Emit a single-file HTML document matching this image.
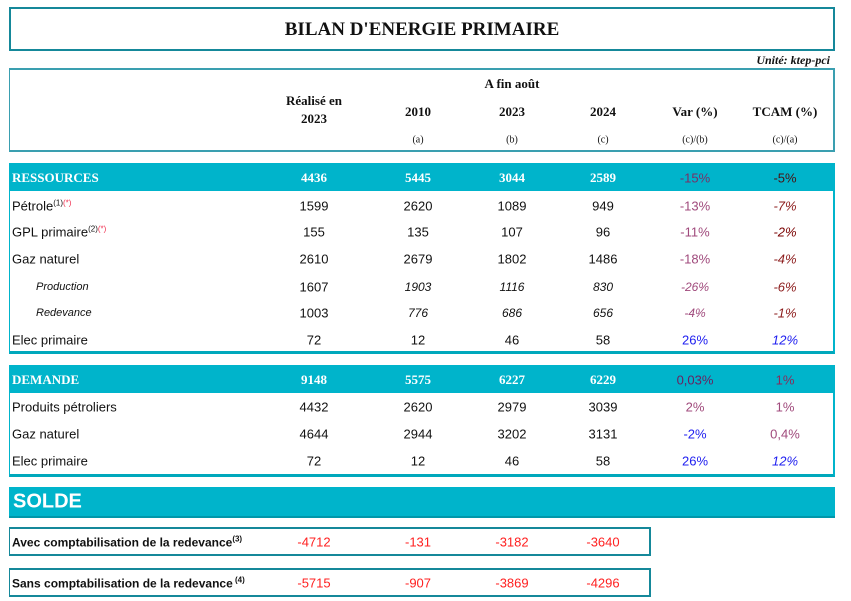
<!DOCTYPE html>
<html><head><meta charset="utf-8">
<style>
body{margin:0;width:851px;height:601px;background:#fff;position:relative;overflow:hidden;font-family:"Liberation Sans Narrow","Liberation Sans",sans-serif;color:#111}
.a{position:absolute}
.box{position:absolute;box-sizing:border-box}
.serif{font-family:"Liberation Serif",serif}
.c{position:absolute;transform:translate(-50%,-50%);white-space:nowrap;font-size:13px}
.l{position:absolute;transform:translateY(-50%);white-space:nowrap;font-size:13px}
.band{position:absolute;background:#00b4cb}
.hb{font-family:"Liberation Serif",serif;font-weight:bold;font-size:13px}
sup{font-size:8px}
</style></head><body>
<div class="box" style="left:9px;top:7px;width:826px;height:44px;border:2px solid #15889a"></div>
<div class="c serif" style="left:422px;top:30px;font-size:19px;font-weight:bold">BILAN D'ENERGIE PRIMAIRE</div>
<div class="a serif" style="right:21px;top:53px;font-size:12px;font-weight:bold;font-style:italic">Unité: ktep-pci</div>
<div class="box" style="left:9px;top:68px;width:826px;height:84px;border:2px solid #3a9fb0;border-left-width:1px"></div>
<div class="c hb" style="left:512px;top:84px">A fin août</div>
<div class="c hb" style="left:314px;top:110px;text-align:center;line-height:18px">Réalisé en<br>2023</div>
<div class="c hb" style="left:418px;top:112px">2010</div>
<div class="c hb" style="left:512px;top:112px">2023</div>
<div class="c hb" style="left:603px;top:112px">2024</div>
<div class="c hb" style="left:695px;top:112px">Var (%)</div>
<div class="c hb" style="left:785px;top:112px">TCAM (%)</div>
<div class="c serif" style="left:418px;top:140px;font-size:10px">(a)</div>
<div class="c serif" style="left:512px;top:140px;font-size:10px">(b)</div>
<div class="c serif" style="left:603px;top:140px;font-size:10px">(c)</div>
<div class="c serif" style="left:695px;top:140px;font-size:10px">(c)/(b)</div>
<div class="c serif" style="left:785px;top:140px;font-size:10px">(c)/(a)</div>

<div class="box" style="left:9px;top:163px;width:826px;height:191px;border-right:2px solid #00b4cb;border-bottom:3px solid #00a8bc;border-left:1px solid #00b4cb"></div>
<div class="band" style="left:9px;top:163px;width:826px;height:28px"></div>
<div class="box" style="left:9px;top:365px;width:826px;height:112px;border:2px solid #00b4cb;border-bottom:3px solid #00a8bc;border-left-width:1px"></div>
<div class="band" style="left:9px;top:365px;width:826px;height:28px"></div>
<div class="band" style="left:9px;top:487px;width:826px;height:29px;border-bottom:2px solid #0097aa"></div>
<div class="l" style="left:13px;top:502px;color:#fff;font-size:20px;font-weight:bold">SOLDE</div>
<div class="box" style="left:9px;top:527px;width:642px;height:29px;border:2px solid #15889a;border-left-width:1px"></div>
<div class="box" style="left:9px;top:568px;width:642px;height:29px;border:2px solid #15889a;border-left-width:1px"></div>

<div id="rows"></div>
<script>
const labels=["RESSOURCES","Pétrole","GPL primaire","Gaz naturel","Production","Redevance","Elec primaire","DEMANDE","Produits pétroliers","Gaz naturel","Elec primaire","Avec comptabilisation de la redevance","Sans comptabilisation de la redevance"];
const sups=["","(1)","(2)","","","","","","","","","(3)"," (4)"];
const realise=["4436","1599","155","2610","1607","1003","72","9148","4432","4644","72","-4712","-5715"];
const v2010=["5445","2620","135","2679","1903","776","12","5575","2620","2944","12","-131","-907"];
const v2023=["3044","1089","107","1802","1116","686","46","6227","2979","3202","46","-3182","-3869"];
const v2024=["2589","949","96","1486","830","656","58","6229","3039","3131","58","-3640","-4296"];
const varPct=["-15%","-13%","-11%","-18%","-26%","-4%","26%","0,03%","2%","-2%","26%","",""];
const tcam=["-5%","-7%","-2%","-4%","-6%","-1%","12%","1%","1%","0,4%","12%","",""];
const rowY=[178,206,232,259,287,313,340,380,407,434,461,542,583];
const kind=["band","n","n","n","i","i","n","band","n","n","n","s","s"];
const varCol=["#7a2f66","#a04a7c","#a04a7c","#a04a7c","#a04a7c","#a04a7c","#2020f0","#6a2060","#a04a7c","#2020f0","#2020f0","",""];
const tcamCol=["#4a1010","#8b1a1a","#7a0000","#8b1a1a","#8b1a1a","#8b1a1a","#2020f0","#8b2a5a","#a04a7c","#a04a7c","#2020f0","",""];
const xs=[314,418,512,603,695,785];
const root=document.getElementById('rows');
function cell(cls,txt,x,y,style){const d=document.createElement('div');d.className=cls;d.textContent=txt;d.style.left=x+'px';d.style.top=y+'px';if(style)d.style.cssText+=style;root.appendChild(d);return d;}
labels.forEach((lab,i)=>{
  const k=kind[i],y=rowY[i];
  let st='';
  if(k==='band')st='color:#fff;font-family:"Liberation Serif",serif;font-weight:bold;';
  if(k==='s')st='font-weight:bold;font-size:12px;';
  const lx=(k==='i')?36:12;
  const L=cell('l',lab,lx,y,st+(k==='i'?'font-style:italic;font-size:11px;':''));
  if(sups[i]){const s=document.createElement('sup');s.textContent=sups[i];L.appendChild(s);
    if(i===1||i===2){const s2=document.createElement('sup');s2.textContent='(*)';s2.style.color='#f03050';L.appendChild(s2);}}
  
  
  const vals=[realise[i],v2010[i],v2023[i],v2024[i]];
  vals.forEach((v,j)=>{
    let s2=st;
    if(k==='s')s2='color:#ff2020;';
    if(k==='i'&&j>0)s2+='font-style:italic;font-size:12px;';
    const c=cell('c',v,xs[j],y,s2);
    
    
  });
  if(varPct[i]){
    const a=cell('c',varPct[i],xs[4],y,'color:'+varCol[i]+';'+(k==='i'?'font-style:italic;font-size:12px;':''));
    
    
    const b=cell('c',tcam[i],xs[5],y,'color:'+tcamCol[i]+';'+((i>=1&&i<=6)||i===10?'font-style:italic;':''));
    
    
  }
});
</script>
</body></html>
